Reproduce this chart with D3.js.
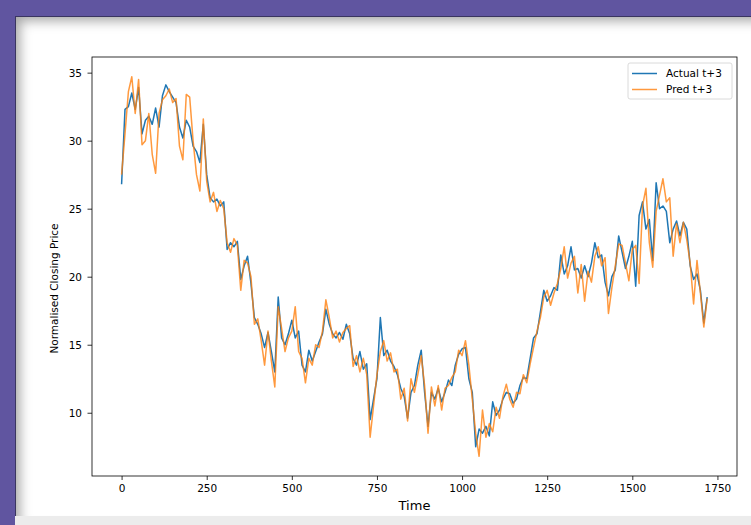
<!DOCTYPE html>
<html>
<head>
<meta charset="utf-8">
<script src="https://cdn.jsdelivr.net/npm/d3@7/dist/d3.min.js"></script>
<style>
  html, body { margin: 0; padding: 0; }
  body { width: 751px; height: 525px; background: #6055a0; position: relative; overflow: hidden; }
  #below { position: absolute; left: 15px; top: 16px; width: 760px; height: 520px; background: #ececec; }
  #panel { position: absolute; left: 15px; top: 16px; width: 760px; height: 499px; background: #ffffff;
           border-top: 1px solid #3a3560; border-left: 1px solid #3a3560;
           box-shadow: inset 8px 8px 12px -4px rgba(0,0,0,0.35); }
  svg { position: absolute; left: 0; top: 0; }
</style>
</head>
<body>
<div id="below"></div>
<div id="panel"></div>
<svg id="chart" width="751" height="525"></svg>
<script>
// ---- data ----
const timeStep = 10;
const actual = [
  26.8, 32.3, 32.5, 33.5, 32.3, 33.9, 30.5, 31.5, 31.8, 31.2,
  32.4, 31.0, 33.3, 34.1, 33.6, 33.2, 32.8, 31.0, 30.2, 31.5,
  31.0, 29.6, 29.2, 28.4, 31.2, 27.5, 25.8, 25.5, 25.7, 25.2,
  25.5, 22.0, 22.5, 22.2, 22.6, 19.8, 20.8, 21.5, 19.5, 17.0,
  16.5, 15.8, 14.8, 15.9, 14.5, 13.0, 18.5, 15.5, 15.0, 15.8,
  16.8, 15.5, 16.0, 13.5, 13.0, 14.6, 13.8, 14.5, 15.2, 15.8,
  17.6, 16.5, 15.8, 15.5, 15.9, 15.4, 16.5, 15.8, 14.0, 13.5,
  14.5, 13.2, 13.6, 9.5, 11.0, 12.5, 17.0, 14.2, 14.6, 13.8,
  13.4, 12.8, 11.8, 11.2, 9.6, 11.5, 12.0, 13.5, 14.6, 11.5,
  9.0, 11.5, 11.0, 11.8, 10.8, 11.5, 12.4, 12.0, 13.5, 14.3,
  14.7, 14.8, 12.5, 11.5, 7.5, 8.8, 8.5, 9.0, 8.3, 10.8,
  9.8, 10.2, 11.0, 11.5, 11.4, 10.7, 11.0, 12.0, 12.6, 12.5,
  14.0, 15.5, 15.8, 17.4, 19.0, 18.2, 18.6, 19.2, 19.0, 21.6,
  20.2, 20.8, 22.2, 20.5, 20.6, 19.9, 20.8, 20.0, 21.0, 22.5,
  21.4, 21.6, 19.6, 18.6, 20.0, 20.5, 23.0, 21.8, 20.6, 21.5,
  22.6, 19.3, 24.5, 25.5, 23.5, 24.2, 21.2, 26.9, 25.0, 25.2,
  24.8, 22.5, 23.5, 24.1, 23.0, 24.0, 23.5, 20.8, 19.8, 20.2,
  19.0, 16.6, 18.5
];
const predicted = [
  27.5, 30.5, 33.6, 34.7, 32.0, 34.5, 29.7, 30.0, 32.0, 29.0,
  27.6, 32.0, 33.0, 33.3, 33.8, 32.8, 33.1, 29.6, 28.6, 33.4,
  33.2, 30.0, 27.5, 26.3, 31.6, 27.0, 25.5, 26.2, 24.8, 25.6,
  25.0, 22.5, 21.8, 22.8, 22.3, 19.0, 21.2, 21.0, 20.0, 16.5,
  16.9, 15.3, 13.5, 16.0, 13.8, 11.9, 17.8, 16.2, 14.5, 15.5,
  16.0, 17.8, 14.5, 14.0, 12.2, 14.0, 13.5, 15.0, 14.8, 16.0,
  18.3, 17.0, 15.5, 16.0, 15.2, 15.9, 16.2, 16.4, 13.4, 14.2,
  13.0, 14.0, 12.8, 8.2, 10.5, 12.8, 14.5, 15.3, 13.8, 14.4,
  13.0, 13.2, 11.0, 11.8, 9.4, 12.5, 11.5, 12.8, 14.2, 12.0,
  8.5, 11.9, 10.5, 12.0, 10.2, 11.8, 12.0, 12.6, 13.0, 14.6,
  14.2, 15.3, 13.5, 11.0, 8.5, 6.8, 10.2, 8.2, 9.2, 8.6,
  10.4, 9.6, 11.2, 12.1, 11.0, 10.4, 11.5, 11.4, 12.8, 12.2,
  13.6, 14.8, 16.0, 17.0, 18.5, 19.0, 17.9, 18.8, 19.5, 20.6,
  22.2, 19.9, 21.0, 21.5, 18.8, 20.9, 18.2, 20.4, 19.6, 21.5,
  22.2, 20.8, 21.4, 17.3, 19.2, 20.8, 22.4, 22.3, 21.0, 19.7,
  22.0, 22.3, 19.5, 25.2, 26.5, 22.5, 20.7, 24.8, 26.0, 27.2,
  25.5, 25.8, 21.5, 23.9, 22.5, 24.0, 22.7, 21.0, 18.0, 21.2,
  18.8, 16.3, 18.4
];
const xTicks = [0, 250, 500, 750, 1000, 1250, 1500, 1750];
const yTicks = [10, 15, 20, 25, 30, 35];
const seriesNames = ["Actual t+3", "Pred t+3"];

// ---- layout ----
const pL = 92, pR = 737, pT = 57, pB = 476;
const font = "DejaVu Sans, sans-serif";
const svg = d3.select("#chart");

const x = d3.scaleLinear().domain([-86.9, 1807.5]).range([pL, pR]);
const y = d3.scaleLinear().domain([5.35, 36.15]).range([pB, pT]);

const line = d3.line().x((d, i) => x(i * timeStep)).y(d => y(d));

const plot = svg.append("g");
plot.append("path").datum(actual)
  .attr("d", line).attr("fill", "none")
  .attr("stroke", "#1f77b4").attr("stroke-width", 1.5).attr("stroke-linejoin", "round");
plot.append("path").datum(predicted)
  .attr("d", line).attr("fill", "none")
  .attr("stroke", "#ff7f0e").attr("stroke-opacity", 0.8).attr("stroke-width", 1.5).attr("stroke-linejoin", "round");

// axes
const xAxis = d3.axisBottom(x).tickValues(xTicks).tickSize(4).tickPadding(5).tickFormat(d3.format("d"));
const yAxis = d3.axisLeft(y).tickValues(yTicks).tickSize(4.5).tickPadding(5.5).tickFormat(d3.format("d"));

const gx = svg.append("g").attr("transform", `translate(0,${pB})`).call(xAxis);
const gy = svg.append("g").attr("transform", `translate(${pL},0)`).call(yAxis);
[gx, gy].forEach(g => {
  g.select(".domain").remove();
  g.selectAll(".tick line").attr("stroke", "#000").attr("stroke-width", 0.8);
  g.selectAll(".tick text").attr("font-family", font).attr("font-size", 10.5).attr("fill", "#000");
});

// frame
svg.append("rect").attr("x", pL).attr("y", pT)
  .attr("width", pR - pL).attr("height", pB - pT)
  .attr("fill", "none").attr("stroke", "#000").attr("stroke-width", 0.8);

// labels
svg.append("text").attr("x", (pL + pR) / 2).attr("y", 510)
  .attr("text-anchor", "middle").attr("font-family", font).attr("font-size", 13)
  .text("Time");
svg.append("text").attr("transform", `translate(57.5,288.5) rotate(-90)`)
  .attr("text-anchor", "middle").attr("font-family", font).attr("font-size", 10.5)
  .text("Normalised Closing Price");

// legend
const lg = svg.append("g");
lg.append("rect").attr("x", 628).attr("y", 63).attr("width", 104).attr("height", 36)
  .attr("rx", 2).attr("fill", "#fff").attr("fill-opacity", 0.8).attr("stroke", "#d0d0d0").attr("stroke-width", 0.8);
const colors = ["#1f77b4", "#ff7f0e"];
const opac = [1, 0.8];
seriesNames.forEach((name, i) => {
  const yy = 73.5 + i * 16;
  lg.append("line").attr("x1", 632).attr("x2", 657).attr("y1", yy).attr("y2", yy)
    .attr("stroke", colors[i]).attr("stroke-opacity", opac[i]).attr("stroke-width", 1.5);
  lg.append("text").attr("x", 666).attr("y", yy + 3.8)
    .attr("font-family", font).attr("font-size", 10.5).text(name);
});
</script>
</body>
</html>
